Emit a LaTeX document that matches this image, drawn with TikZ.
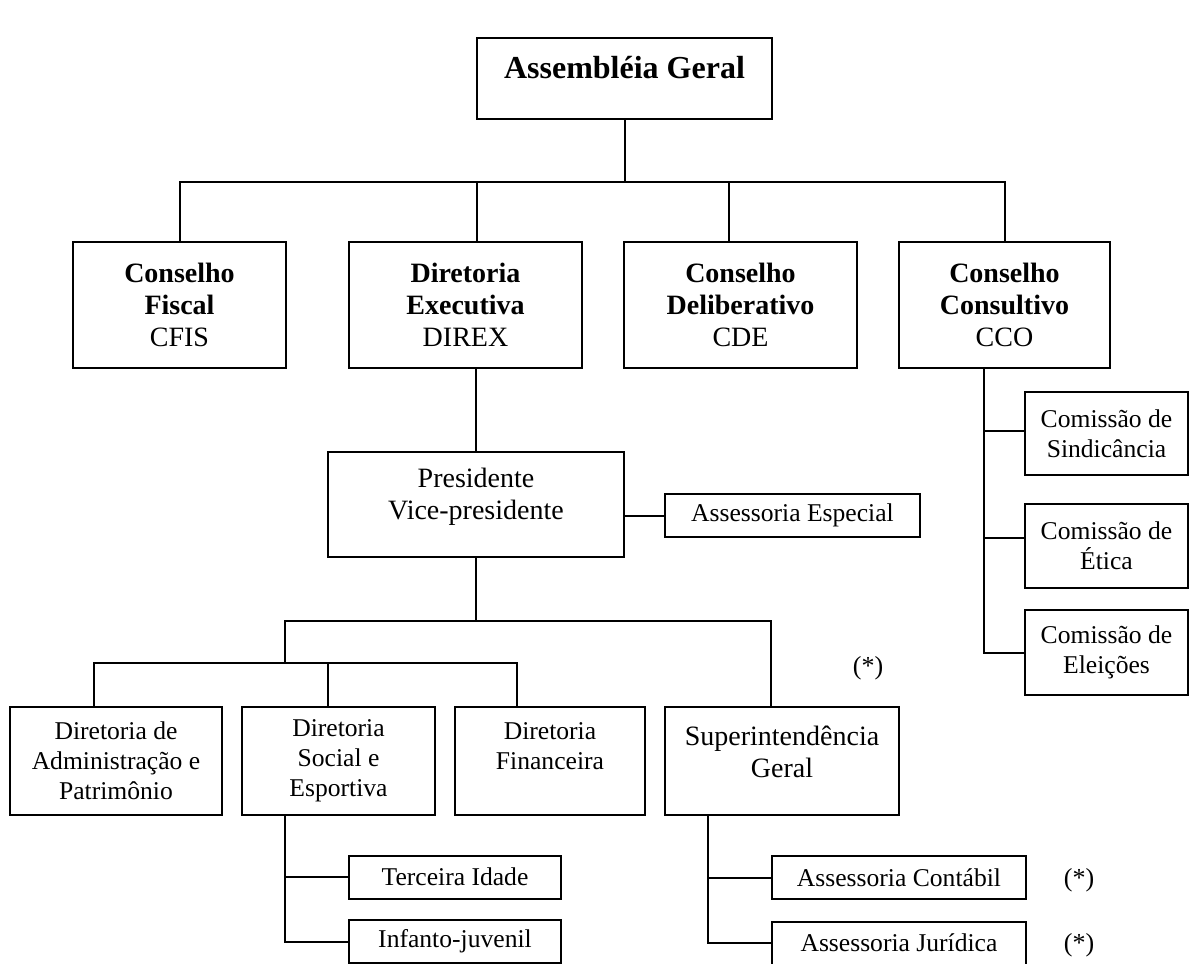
\documentclass[tikz,border=0pt]{standalone}
\usepackage{fontspec}
\setmainfont{Liberation Serif}
\usetikzlibrary{positioning}

\begin{document}
\begin{tikzpicture}[
    x=0.5pt, y=-0.5pt,
    box/.style={rectangle, draw, line width=1pt, inner sep=2pt, align=center, font=\fontsize{12.8}{15}\selectfont},
    head/.style={box, font=\fontsize{14}{16}\selectfont},
    small/.style={box, minimum height=21.5pt},
    link/.style={draw, line width=1pt}
]
\useasboundingbox (0,0) rectangle (1191,964);

% topo
\node[head, minimum width=147.5pt, minimum height=40.5pt, font=\fontsize{16}{18}\selectfont\bfseries] (ag) at (624.5,78.5) {Assembléia Geral\\[-7pt]\mbox{}};

% conselhos e diretoria executiva
\node[head, minimum width=106.5pt, minimum height=63pt] (cfis) at (179.5,305) {\textbf{Conselho}\\\textbf{Fiscal}\\CFIS};
\node[head, minimum width=116.5pt, minimum height=63pt] (direx) at (465.5,305) {\textbf{Diretoria}\\\textbf{Executiva}\\DIREX};
\node[head, minimum width=116.5pt, minimum height=63pt] (cde) at (740.5,305) {\textbf{Conselho}\\\textbf{Deliberativo}\\CDE};
\node[head, minimum width=105.5pt, minimum height=63pt] (cco) at (1004.5,305) {\textbf{Conselho}\\\textbf{Consultivo}\\CCO};

% presidencia
\node[head, minimum width=148pt, minimum height=52.5pt] (pres) at (476,504.5) {Presidente\\Vice-presidente\\[-5pt]\mbox{}};
\node[small, minimum width=127.5pt] (esp) at (792.5,515.5) {Assessoria Especial};

% comissoes
\node[box, minimum width=81.5pt, minimum height=41.5pt] (sind) at (1106.5,433.5) {Comissão de\\Sindicância};
\node[box, minimum width=81.5pt, minimum height=42pt] (etica) at (1106.5,546) {Comissão de\\Ética};
\node[box, minimum width=81.5pt, minimum height=42.5pt] (eleic) at (1106.5,652.5) {Comissão de\\Eleições};

% diretorias
\node[box, minimum width=106pt, minimum height=54pt] (adm) at (116,761) {Diretoria de\\Administração e\\Patrimônio};
\node[box, minimum width=96.5pt, minimum height=54pt] (soc) at (338.5,761) {Diretoria\\Social e\\Esportiva};
\node[box, minimum width=95pt, minimum height=54pt] (fin) at (550,761) {Diretoria\\Financeira\\ \mbox{}};
\node[head, minimum width=117pt, minimum height=54pt] (sup) at (782,761) {Superintendência\\Geral\\[-7pt]\mbox{}};

\node[small, minimum width=106pt] (terc) at (455,877) {Terceira Idade};
\node[small, minimum width=106pt] (inf) at (455,941.5) {Infanto-juvenil};
\node[small, minimum width=127pt] (cont) at (899,877.5) {Assessoria Contábil};
\node[small, minimum width=127pt] (jur) at (899,943) {Assessoria Jurídica};

% notas
\node[font=\fontsize{13}{15}\selectfont] (nota1) at (868,668) {(*)};
\node[font=\fontsize{13}{15}\selectfont] (nota2) at (1079,880) {(*)};
\node[font=\fontsize{13}{15}\selectfont] (nota3) at (1079,945) {(*)};

% ligacoes
\coordinate (bus1) at (624.5,182);
\draw[link] (ag.south) -- (bus1);
\foreach \n/\dx in {cfis/0, direx/5.75, cde/-5.75, cco/0}
    \draw[link] ([xshift=\dx pt]\n.north) |- (bus1);

\draw[link] (pres.north) -- (pres.north |- direx.south);
\draw[link] (esp.west) -- (esp.west -| pres.east);

\foreach \n/\dy in {sind/1.25, etica/4, eleic/0}
    \draw[link] ([xshift=-10.25pt]cco.south) |- ([yshift=\dy pt]\n.west);

\coordinate (bus2) at (476,621);
\coordinate (bus3) at (285,663);
\draw[link] (pres.south) -- (bus2);
\draw[link] ([xshift=-5.5pt]sup.north) |- (bus2);
\draw[link] (bus2) -| (bus3);
\foreach \n/\dx in {adm/-11, soc/-5.25, fin/-16.5}
    \draw[link] ([xshift=\dx pt]\n.north) |- (bus3);

\foreach \n in {terc, inf}
    \draw[link] ([xshift=-26.75pt]soc.south) |- (\n.west);
\foreach \n in {cont, jur}
    \draw[link] ([xshift=-37pt]sup.south) |- (\n.west);

\end{tikzpicture}
\end{document}
